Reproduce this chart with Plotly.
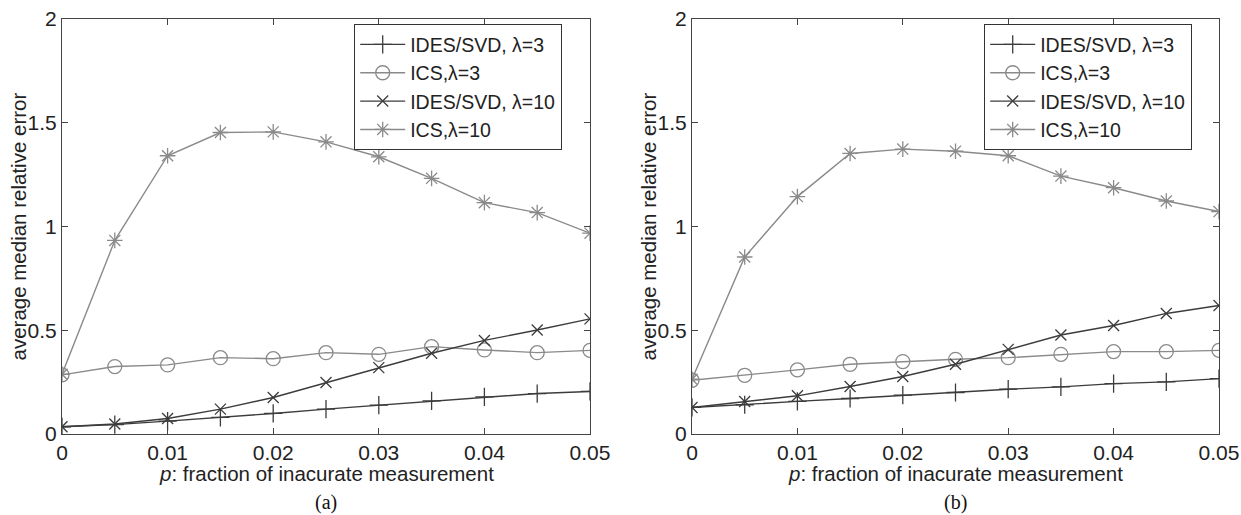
import plotly.graph_objects as go

W, H = 1241, 515

p = [0, 0.005, 0.01, 0.015, 0.02, 0.025, 0.03, 0.035, 0.04, 0.045, 0.05]

# panel (a)
a_ides3 = [0.035, 0.045, 0.062, 0.080, 0.099, 0.120, 0.139, 0.160, 0.179, 0.195, 0.205]
a_ics3 = [0.285, 0.325, 0.333, 0.368, 0.363, 0.392, 0.384, 0.421, 0.405, 0.392, 0.403]
a_ides10 = [0.035, 0.048, 0.075, 0.120, 0.176, 0.248, 0.320, 0.389, 0.451, 0.501, 0.555]
a_ics10 = [0.288, 0.933, 1.341, 1.453, 1.456, 1.408, 1.336, 1.232, 1.115, 1.067, 0.968]

# panel (b)
b_ides3 = [0.128, 0.141, 0.157, 0.171, 0.187, 0.200, 0.216, 0.227, 0.243, 0.251, 0.267]
b_ics3 = [0.259, 0.283, 0.309, 0.336, 0.349, 0.360, 0.368, 0.384, 0.397, 0.397, 0.403]
b_ides10 = [0.128, 0.157, 0.184, 0.229, 0.277, 0.336, 0.408, 0.477, 0.523, 0.581, 0.619]
b_ics10 = [0.264, 0.853, 1.144, 1.352, 1.373, 1.363, 1.341, 1.243, 1.187, 1.123, 1.072]

names = ["IDES/SVD, λ=3", "ICS,λ=3", "IDES/SVD, λ=10", "ICS,λ=10"]
x_ticks = [0, 0.01, 0.02, 0.03, 0.04, 0.05]
x_ticktext = ["0", "0.01", "0.02", "0.03", "0.04", "0.05"]
y_ticks = [0, 0.5, 1, 1.5, 2]
y_ticktext = ["0", "0.5", "1", "1.5", "2"]

DARK = "#3c3c3c"
GRAY = "#8a8a8a"
styles = [
    dict(color=DARK, symbol="cross-thin-open", size=13),
    dict(color=GRAY, symbol="circle-open", size=14),
    dict(color=DARK, symbol="x-thin-open", size=11),
    dict(color=GRAY, symbol="asterisk-open", size=13),
]
FONT = "Liberation Sans, Arial, Helvetica, sans-serif"
FS = 21

fig = go.Figure()

panels = [
    ("x", "y", "legend", [a_ides3, a_ics3, a_ides10, a_ics10]),
    ("x2", "y2", "legend2", [b_ides3, b_ics3, b_ides10, b_ics10]),
]
for xa, ya, lg, series in panels:
    for name, vals, st in zip(names, series, styles):
        fig.add_trace(go.Scatter(
            x=p, y=vals, name=name, mode="lines+markers",
            xaxis=xa, yaxis=ya, legend=lg,
            line=dict(color=st["color"], width=1.4),
            marker=dict(symbol=st["symbol"], size=st["size"], color=st["color"],
                        line=dict(color=st["color"], width=1.3)),
        ))

x1 = (62 / W, 590 / W)
x2 = (692 / W, 1219 / W)
y_dom = ((H - 434) / H, (H - 19) / H)

axis_common = dict(
    showline=True, linecolor="#444", linewidth=1.2, mirror="allticks",
    ticks="inside", ticklen=6, tickcolor="#444", tickwidth=1.2,
    showgrid=False, zeroline=False,
    tickfont=dict(family=FONT, size=FS, color="#222"),
)
fig.update_layout(
    width=W, height=H, margin=dict(l=0, r=0, t=0, b=0, autoexpand=False),
    paper_bgcolor="white", plot_bgcolor="white",
    showlegend=True,
    xaxis=dict(domain=x1, range=[0, 0.05], tickvals=x_ticks, ticktext=x_ticktext, anchor="y", **axis_common),
    yaxis=dict(domain=y_dom, range=[0, 2], tickvals=y_ticks, ticktext=y_ticktext, anchor="x", **axis_common),
    xaxis2=dict(domain=x2, range=[0, 0.05], tickvals=x_ticks, ticktext=x_ticktext, anchor="y2", **axis_common),
    yaxis2=dict(domain=y_dom, range=[0, 2], tickvals=y_ticks, ticktext=y_ticktext, anchor="x2", **axis_common),
)

leg_common = dict(
    xanchor="left", yanchor="top", bgcolor="white", bordercolor="#333", borderwidth=1.2,
    font=dict(family=FONT, size=19.5, color="#222"), itemwidth=45,
)
fig.update_layout(
    legend=dict(x=354 / W, y=1 - 24 / H, **leg_common),
    legend2=dict(x=(354 + 630) / W, y=1 - 24 / H, **leg_common),
)

for (dx, label) in [(x1, "(a)"), (x2, "(b)")]:
    cx = (dx[0] + dx[1]) / 2
    fig.add_annotation(x=cx, y=1 - 473 / H, xref="paper", yref="paper",
                       text="<i>p</i>: fraction of inacurate measurement", showarrow=False,
                       font=dict(family=FONT, size=20.5, color="#222"), xanchor="center", yanchor="middle")
    fig.add_annotation(x=cx, y=1 - 502 / H, xref="paper", yref="paper",
                       text=label, showarrow=False,
                       font=dict(family="Liberation Serif, Times New Roman, serif", size=20, color="#111"),
                       xanchor="center", yanchor="middle")
    fig.add_annotation(x=(dx[0] * W - 44) / W, y=(y_dom[0] + y_dom[1]) / 2, xref="paper", yref="paper",
                       text="average median relative error", showarrow=False, textangle=-90,
                       font=dict(family=FONT, size=20.5, color="#222"), xanchor="center", yanchor="middle")

fig.write_html("out.html")
